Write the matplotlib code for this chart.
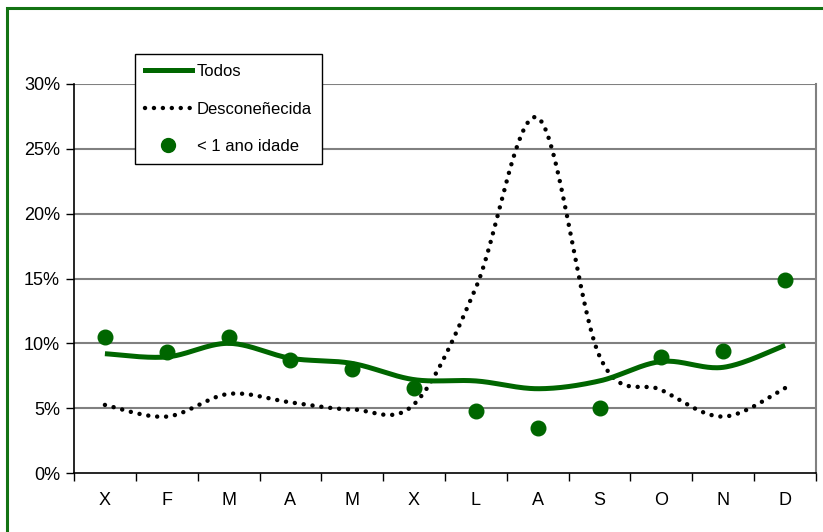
import numpy as np
import matplotlib
matplotlib.use("Agg")
import matplotlib.pyplot as plt
from matplotlib.lines import Line2D
from matplotlib.patches import Rectangle

plt.rcParams['font.family'] = ['Liberation Sans', 'DejaVu Sans']

months = ["X", "F", "M", "A", "M", "X", "L", "A", "S", "O", "N", "D"]
todos = [9.2, 8.95, 10.0, 8.85, 8.45, 7.2, 7.1, 6.5, 7.1, 8.6, 8.15, 9.85]
descon = [5.25, 4.35, 6.1, 5.45, 4.9, 5.3, 14.3, 27.4, 9.0, 6.4, 4.35, 6.55]
menos1 = [10.5, 9.35, 10.45, 8.7, 8.0, 6.55, 4.8, 3.45, 5.05, 8.95, 9.4, 14.9]
yticks = [0, 5, 10, 15, 20, 25, 30]
ytick_labels = ["0%", "5%", "10%", "15%", "20%", "25%", "30%"]

GREEN = "#006600"
DOTTED = (0, (0.01, 2.0))


def smooth(y, n=40):
    # Excel-style smoothed line (Catmull-Rom / Bezier with 1/6 control points)
    y = np.asarray(y, float)
    x = np.arange(len(y), dtype=float)
    xs, ys = [], []
    for i in range(len(y) - 1):
        x0, x3 = x[i], x[i + 1]
        y0, y3 = y[i], y[i + 1]
        xp = x[i - 1] if i > 0 else x0
        yp = y[i - 1] if i > 0 else y0
        xn = x[i + 2] if i + 2 < len(y) else x3
        yn = y[i + 2] if i + 2 < len(y) else y3
        x1 = x0 + (x3 - xp) / 6.0
        y1 = y0 + (y3 - yp) / 6.0
        x2 = x3 - (xn - x0) / 6.0
        y2 = y3 - (yn - y0) / 6.0
        t = np.linspace(0, 1, n, endpoint=(i == len(y) - 2))
        b0 = (1 - t) ** 3
        b1 = 3 * (1 - t) ** 2 * t
        b2 = 3 * (1 - t) * t ** 2
        b3 = t ** 3
        xs.append(b0 * x0 + b1 * x1 + b2 * x2 + b3 * x3)
        ys.append(b0 * y0 + b1 * y1 + b2 * y2 + b3 * y3)
    return np.concatenate(xs), np.concatenate(ys)


fig = plt.figure(figsize=(8.23, 5.32), dpi=100)
ax = fig.add_axes([74 / 823, 59 / 532, (816 - 74) / 823, (473 - 84) / 532])

x = np.arange(len(months))
xs, ys = smooth(descon)
ax.plot(xs, ys, color="black", lw=3.2, linestyle=DOTTED,
        dash_capstyle="round", zorder=3)
xs, ys = smooth(todos)
ax.plot(xs, ys, color=GREEN, lw=3.6, solid_capstyle="butt", zorder=4)
ax.plot(x, menos1, linestyle="none", marker="o", color=GREEN,
        markersize=10.5, zorder=5)

ax.set_xlim(-0.5, len(months) - 0.5)
ax.set_ylim(0, 30)
ax.set_yticks(yticks)
ax.set_yticklabels(ytick_labels, fontsize=13)
ax.set_xticks(x)
ax.set_xticklabels(months, fontsize=13)
ax.set_xticks(np.arange(-0.5, len(months) + 0.5, 1), minor=True)
ax.tick_params(axis="x", which="major", length=0, pad=14)
ax.tick_params(axis="x", which="minor", length=6, width=1, color="black")
ax.tick_params(axis="y", length=6, width=1, pad=4)

for yv in yticks[1:]:
    ax.axhline(yv, color="#808080", lw=1.5, zorder=1)
for s in ["left", "bottom"]:
    ax.spines[s].set_color("black")
    ax.spines[s].set_linewidth(1.2)
ax.spines["top"].set_visible(False)
ax.spines["right"].set_color("#808080")
ax.spines["right"].set_linewidth(1.5)

handles = [
    Line2D([], [], color=GREEN, lw=3.6),
    Line2D([], [], color="black", lw=3.2, linestyle=DOTTED,
           dash_capstyle="round"),
    Line2D([], [], linestyle="none", marker="o", color=GREEN, markersize=10),
]
leg = fig.legend(handles, ["Todos", "Desconeñecida", "< 1 ano idade"],
                 loc="upper left", bbox_to_anchor=(135 / 823, 1 - 54 / 532),
                 fontsize=12, frameon=True, fancybox=False, framealpha=1,
                 edgecolor="black", handlelength=2.8, handletextpad=0.3,
                 labelspacing=1.35, borderpad=0.6, borderaxespad=0)
leg.get_frame().set_linewidth(1.0)

fig.patches.append(Rectangle((7 / 823, -0.05), 1.2, (532 - 8) / 532 + 0.05,
                             transform=fig.transFigure, fill=False,
                             edgecolor="#137313", lw=2.2, zorder=0))

fig.savefig("out.png", dpi=100)
